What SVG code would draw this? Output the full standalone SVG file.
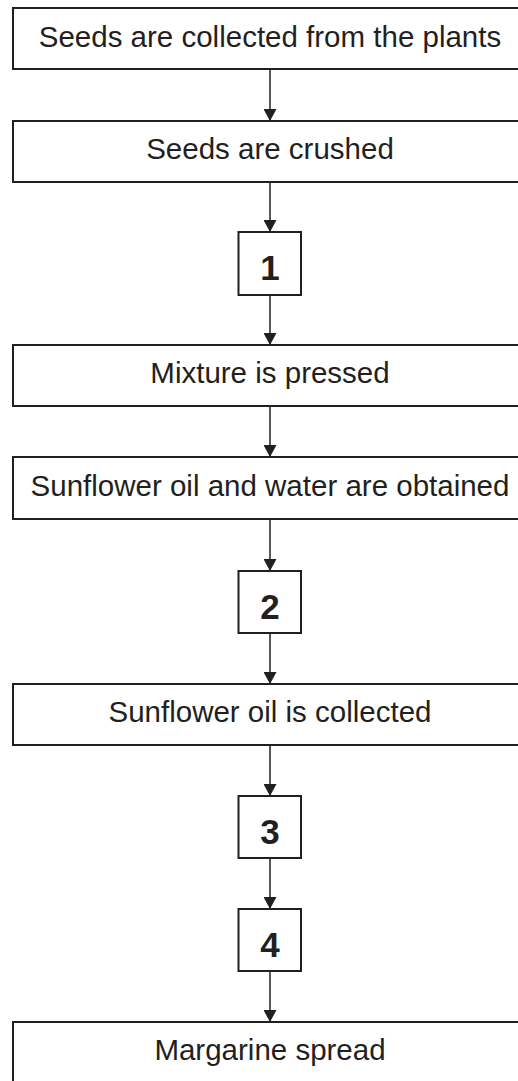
<svg xmlns="http://www.w3.org/2000/svg" width="518" height="1081" viewBox="0 0 518 1081">
<style>
.box{fill:#ffffff;stroke:#231f20;stroke-width:2}
.lbl{font-family:"Liberation Sans",Arial,sans-serif;font-size:29.5px;fill:#231f20;text-anchor:middle}
.num{font-family:"Liberation Sans",Arial,sans-serif;font-size:35px;font-weight:bold;fill:#231f20;text-anchor:middle}
.conn{stroke:#231f20;stroke-width:1.5;fill:none;marker-end:url(#ah)}
</style>
<defs>
<marker id="ah" markerUnits="userSpaceOnUse" markerWidth="13" markerHeight="13" refX="12" refY="6.5" orient="auto">
<path d="M0,0 L12,6.5 L0,13 z" fill="#231f20"/>
</marker>
</defs>
<rect width="518" height="1081" fill="#ffffff"/>
<g id="connectors">
<line class="conn" x1="270" y1="69" x2="270" y2="121"/>
<line class="conn" x1="270" y1="182" x2="270" y2="232"/>
<line class="conn" x1="270" y1="295" x2="270" y2="345"/>
<line class="conn" x1="270" y1="406" x2="270" y2="457"/>
<line class="conn" x1="270" y1="519" x2="270" y2="571"/>
<line class="conn" x1="270" y1="633" x2="270" y2="684"/>
<line class="conn" x1="270" y1="745" x2="270" y2="796"/>
<line class="conn" x1="270" y1="858" x2="270" y2="909"/>
<line class="conn" x1="270" y1="971" x2="270" y2="1022"/>
</g>
<g id="n-collected"><rect class="box" x="13" y="8" width="514" height="61"/><text class="lbl" x="270" y="47">Seeds are collected from the plants</text></g>
<g id="n-crushed"><rect class="box" x="13" y="121" width="514" height="61"/><text class="lbl" x="270" y="159">Seeds are crushed</text></g>
<g id="n-1"><rect class="box" x="238.5" y="232" width="62.5" height="63"/><text class="num" x="270" y="280">1</text></g>
<g id="n-pressed"><rect class="box" x="13" y="345" width="514" height="61"/><text class="lbl" x="270" y="383">Mixture is pressed</text></g>
<g id="n-obtained"><rect class="box" x="13" y="457" width="514" height="62"/><text class="lbl" x="270" y="496">Sunflower oil and water are obtained</text></g>
<g id="n-2"><rect class="box" x="238.5" y="571" width="62.5" height="62"/><text class="num" x="270" y="619">2</text></g>
<g id="n-oil"><rect class="box" x="13" y="684" width="514" height="61"/><text class="lbl" x="270" y="722">Sunflower oil is collected</text></g>
<g id="n-3"><rect class="box" x="238.5" y="796" width="62.5" height="62"/><text class="num" x="270" y="844">3</text></g>
<g id="n-4"><rect class="box" x="238.5" y="909" width="62.5" height="62"/><text class="num" x="270" y="957">4</text></g>
<g id="n-margarine"><rect class="box" x="13" y="1022" width="514" height="80"/><text class="lbl" x="270" y="1060">Margarine spread</text></g>
</svg>
